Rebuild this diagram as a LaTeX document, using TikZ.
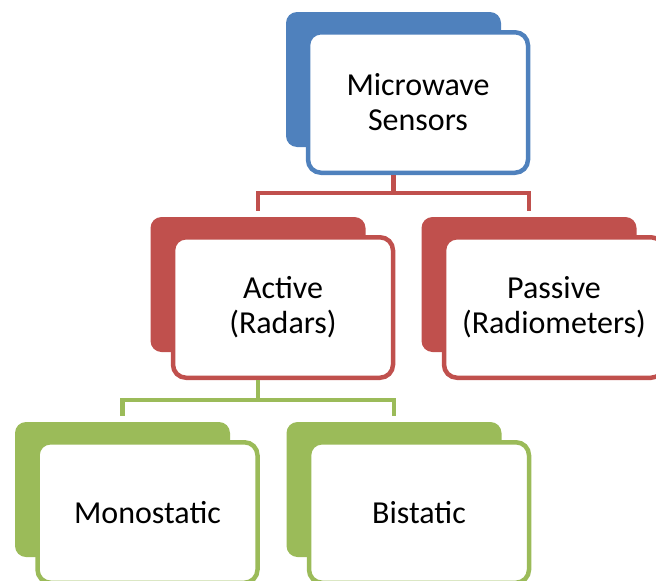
\documentclass[tikz,border=0pt]{standalone}
\usepackage{fontspec}
\setmainfont{Carlito}
\definecolor{lvblue}{HTML}{4F81BD}
\definecolor{lvred}{HTML}{C0504D}
\definecolor{lvgreen}{HTML}{9BBB59}
\begin{document}
\begin{tikzpicture}[x=1pt,y=-1pt,
  backcard/.style={fill=#1, draw=none, rounded corners=11pt, inner sep=0pt,
    minimum width=215pt, minimum height=135pt},
  frontcard/.style={fill=white, draw=#1, line width=4.5pt, rounded corners=13pt,
    inner sep=0pt, minimum width=220pt, minimum height=140.5pt,
    align=center, font=\fontsize{32}{35}\selectfont, text=black},
  link/.style={draw=#1, line width=4.5pt, line join=miter}
]
\useasboundingbox (0,0) rectangle (656,581);

% top level
\node[backcard=lvblue] (mwb) at (393.5,79.5) {};
\node[frontcard=lvblue] (mwf) at ([shift={(24.5pt,-23pt)}]mwb.center) {Microwave\\Sensors};

% second level
\node[backcard=lvred] (actb) at (258,284.5) {};
\node[frontcard=lvred] (actf) at ([shift={(25pt,-23pt)}]actb.center) {Active\\(Radars)};
\node[backcard=lvred] (pasb) at (529,284.5) {};
\node[frontcard=lvred] (pasf) at ([shift={(25pt,-23pt)}]pasb.center) {Passive\\(Radiometers)};

% third level
\node[backcard=lvgreen] (monb) at (122.5,489.5) {};
\node[frontcard=lvgreen] (monf) at ([shift={(25pt,-23pt)}]monb.center) {Monostatic};
\node[backcard=lvgreen] (bisb) at (394,489.5) {};
\node[frontcard=lvgreen] (bisf) at ([shift={(25pt,-23pt)}]bisb.center) {Bistatic};

% junction points of the tree connectors
\coordinate (j1) at (393.5,193);
\coordinate (j2) at (258,400);

\draw[link=lvred] (mwb.center |- mwf.south) -- (j1) -| ([yshift=6pt]actb.north);
\draw[link=lvred] (j1) -| ([yshift=6pt]pasb.north);
\draw[link=lvgreen] (actb.center |- actf.south) -- (j2) -| ([yshift=6pt]monb.north);
\draw[link=lvgreen] (j2) -| ([yshift=6pt]bisb.north);
\end{tikzpicture}
\end{document}
